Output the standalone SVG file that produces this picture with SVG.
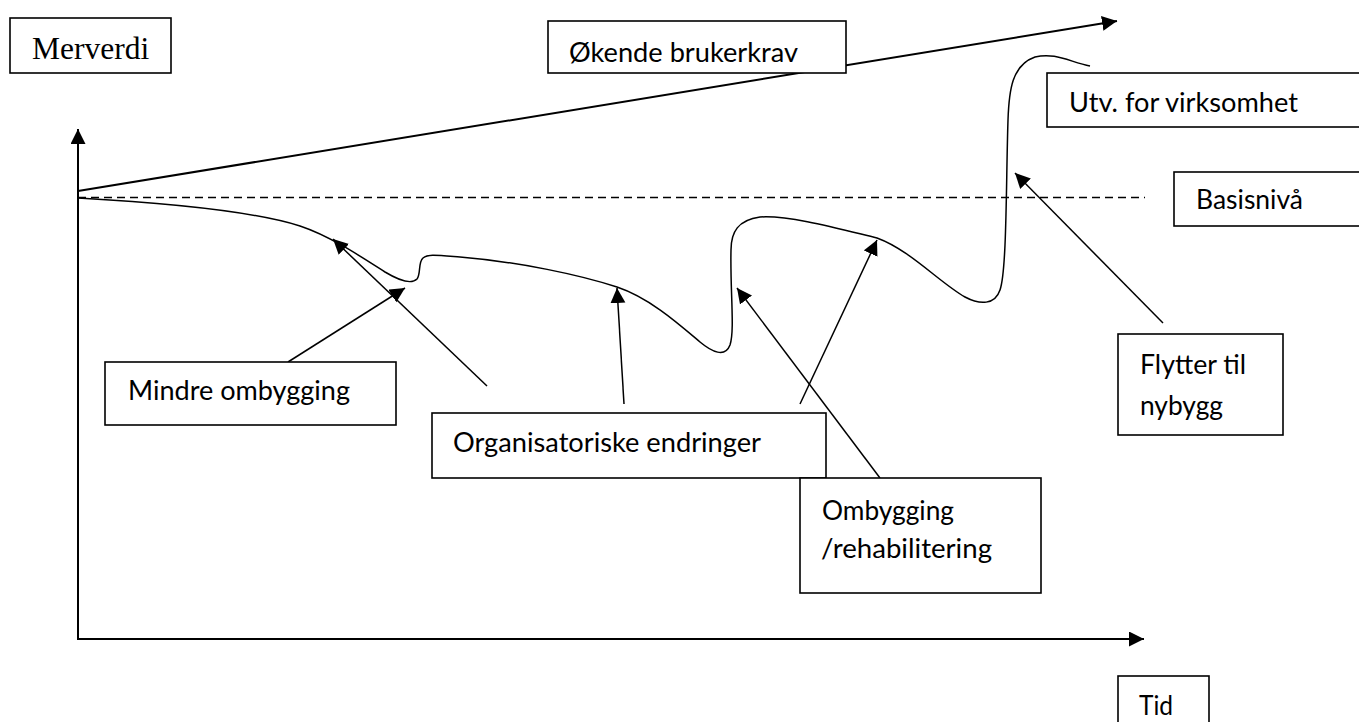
<svg xmlns="http://www.w3.org/2000/svg" width="1359" height="722" viewBox="0 0 1359 722">
<style>
.box{fill:#fff;stroke:#000;stroke-width:1.6}
.lbl{font-family:Lato,"Open Sans","Liberation Sans",sans-serif;font-size:27px;fill:#000}
.ser{font-family:"Liberation Serif","Times New Roman",serif;font-size:31.5px;fill:#000}
.ax{stroke:#000;stroke-width:2;fill:none}
.co{stroke:#000;stroke-width:1.5;fill:none}
</style>
<defs>
<marker id="ah" markerUnits="userSpaceOnUse" markerWidth="16" markerHeight="16" refX="15" refY="7.5" orient="auto" viewBox="0 0 16 16">
<path d="M0,0 L15,7.5 L0,15 z" fill="#000"/>
</marker>
</defs>
<g id="connectors">
<line class="ax" x1="78" y1="639" x2="78" y2="129" marker-end="url(#ah)"/>
<line class="ax" x1="77" y1="639" x2="1144" y2="639" marker-end="url(#ah)"/>
<line class="ax" x1="78" y1="191" x2="1117" y2="21" marker-end="url(#ah)"/>
<line x1="78" y1="197.5" x2="1145" y2="197.5" stroke="#000" stroke-width="1.5" stroke-dasharray="8,5"/>
<path class="co" d="M78,198 C150,202 250,210 300,226 C330,236 360,256 385,272 C400,281 412,284 417,279 C421,274 418,262 423,258 C428,254 435,255 460,257 C520,262 580,275 617,287 C650,298 680,325 700,342 C712,352 725,358 730,345 C735,330 730,290 731,250 C731,232 738,220 760,217 C790,215 840,229 877,238 C910,250 940,283 965,297 C980,305 995,305 1000,290 C1007,270 1006,180 1008,120 C1009,90 1012,65 1035,57 C1055,52 1070,62 1090,66"/>
<line class="co" x1="288" y1="362" x2="405" y2="288" marker-end="url(#ah)"/>
<line class="co" x1="487" y1="386" x2="333" y2="239" marker-end="url(#ah)"/>
<line class="co" x1="624" y1="404" x2="617" y2="288" marker-end="url(#ah)"/>
<line class="co" x1="800" y1="404" x2="877" y2="240" marker-end="url(#ah)"/>
<line class="co" x1="880" y1="478" x2="737" y2="288" marker-end="url(#ah)"/>
<line class="co" x1="1163" y1="323" x2="1015" y2="173" marker-end="url(#ah)"/>
</g>
<g id="merverdi">
<rect class="box" x="10" y="18" width="161" height="55"/>
<text class="ser" x="32" y="59">Merverdi</text>
</g>
<g id="okende">
<rect class="box" x="548" y="21" width="298" height="52"/>
<text class="lbl" x="569" y="62" textLength="229" lengthAdjust="spacingAndGlyphs">Økende brukerkrav</text>
</g>
<g id="utv">
<rect class="box" x="1047" y="73" width="320" height="54"/>
<text class="lbl" x="1069" y="112" textLength="229" lengthAdjust="spacingAndGlyphs">Utv. for virksomhet</text>
</g>
<g id="basis">
<rect class="box" x="1174" y="172" width="200" height="54"/>
<text class="lbl" x="1196" y="209" textLength="107" lengthAdjust="spacingAndGlyphs">Basisnivå</text>
</g>
<g id="mindre">
<rect class="box" x="105" y="362" width="291" height="63"/>
<text class="lbl" x="128" y="400" textLength="222" lengthAdjust="spacingAndGlyphs">Mindre ombygging</text>
</g>
<g id="org">
<rect class="box" x="432" y="413" width="394" height="65"/>
<text class="lbl" x="453" y="452" textLength="308" lengthAdjust="spacingAndGlyphs">Organisatoriske endringer</text>
</g>
<g id="ombygging">
<rect class="box" x="800" y="478" width="241" height="115"/>
<text class="lbl" x="822" y="520" textLength="132" lengthAdjust="spacingAndGlyphs">Ombygging</text>
<text class="lbl" x="821" y="558" textLength="171" lengthAdjust="spacingAndGlyphs">/rehabilitering</text>
</g>
<g id="flytter">
<rect class="box" x="1118" y="334" width="165" height="101"/>
<text class="lbl" x="1140" y="374" textLength="106" lengthAdjust="spacingAndGlyphs">Flytter til</text>
<text class="lbl" x="1140" y="415" textLength="83" lengthAdjust="spacingAndGlyphs">nybygg</text>
</g>
<g id="tid">
<rect class="box" x="1118" y="676" width="91" height="60"/>
<text class="lbl" x="1139" y="715" textLength="34" lengthAdjust="spacingAndGlyphs">Tid</text>
</g>
</svg>
